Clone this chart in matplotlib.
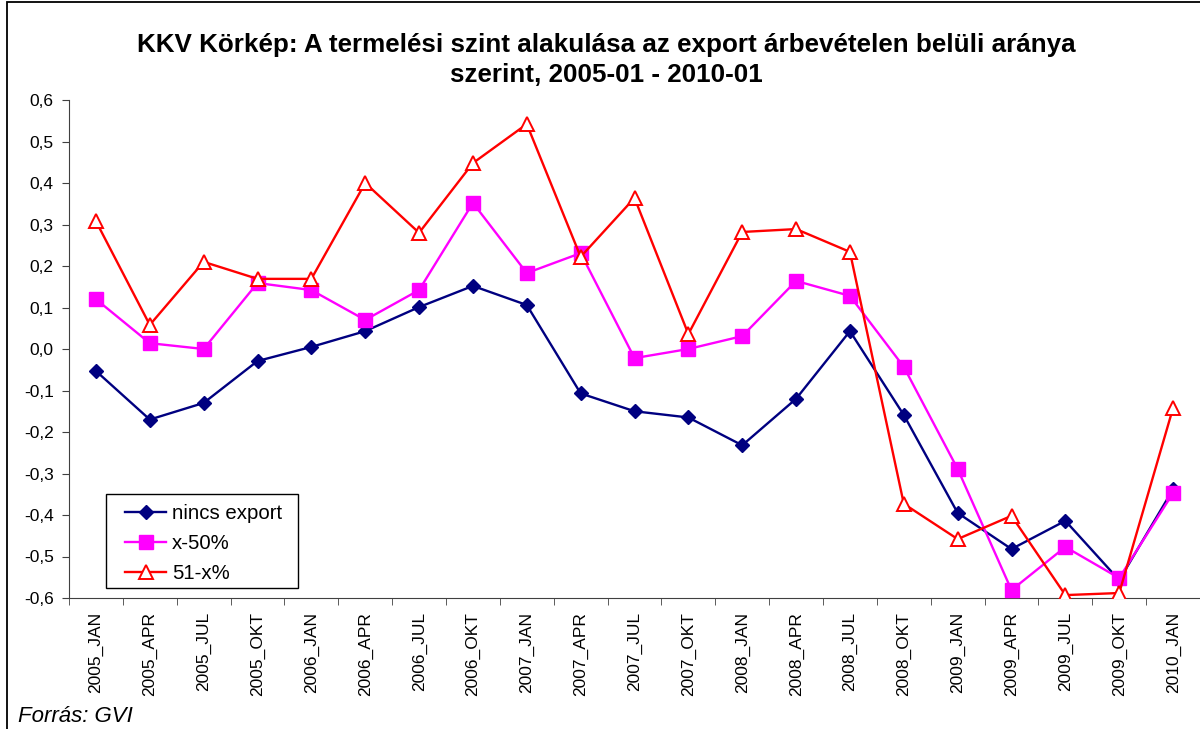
import numpy as np
import matplotlib
matplotlib.use("Agg")
import matplotlib.pyplot as plt
from matplotlib.ticker import FixedLocator, FuncFormatter
from matplotlib.patches import Rectangle

plt.rcParams['font.family'] = ['Liberation Sans', 'DejaVu Sans']

# quarters
labels = ["2005_JAN", "2005_APR", "2005_JUL", "2005_OKT",
          "2006_JAN", "2006_APR", "2006_JUL", "2006_OKT",
          "2007_JAN", "2007_APR", "2007_JUL", "2007_OKT",
          "2008_JAN", "2008_APR", "2008_JUL", "2008_OKT",
          "2009_JAN", "2009_APR", "2009_JUL", "2009_OKT",
          "2010_JAN"]

nincs_export = [-0.053, -0.17, -0.13, -0.029, 0.005, 0.043, 0.101, 0.152,
                0.106, -0.107, -0.15, -0.165, -0.232, -0.12, 0.043, -0.159,
                -0.395, -0.482, -0.414, -0.557, -0.338]
x_50 = [0.12, 0.014, 0.0, 0.159, 0.142, 0.07, 0.142, 0.352,
        0.183, 0.231, -0.022, 0.0, 0.031, 0.164, 0.128, -0.043,
        -0.289, -0.581, -0.477, -0.552, -0.347]
x_51 = [0.308, 0.058, 0.21, 0.169, 0.169, 0.40, 0.28, 0.448,
        0.542, 0.222, 0.364, 0.036, 0.282, 0.289, 0.234, -0.373,
        -0.458, -0.402, -0.593, -0.588, -0.142]

x = np.arange(len(labels))

fig = plt.figure(figsize=(12, 7.29), dpi=100)
ax = fig.add_axes([69/1200, 1-598/729, 1-69/1200, (598-100)/729])

ax.plot(x, nincs_export, color="#000080", lw=1.7, marker="D", ms=7.5,
        markerfacecolor="#000080", markeredgecolor="#000080", label="nincs export", zorder=3)
ax.plot(x, x_50, color="#FF00FF", lw=1.7, marker="s", ms=9.5,
        markerfacecolor="#FF00FF", markeredgecolor="#FF00FF", label="x-50%", zorder=4)
ax.plot(x, x_51, color="#FF0000", lw=1.7, marker="^", ms=9.5,
        markerfacecolor="white", markeredgecolor="#FF0000", markeredgewidth=1.4,
        label="51-x%", zorder=5)

ax.set_xlim(-0.5, len(labels) - 0.5)
ax.set_ylim(-0.6, 0.6)
ax.set_yticks(np.arange(-0.6, 0.61, 0.1))
ax.yaxis.set_major_formatter(FuncFormatter(lambda v, p: ("%.1f" % v).replace(".", ",").replace("-0,0", "0,0")))

ax.set_xticks(x)
ax.set_xticklabels(labels, rotation=90, fontsize=12.5)
ax.xaxis.set_minor_locator(FixedLocator(np.arange(-0.5, len(labels), 1.0)))
ax.tick_params(axis="x", which="major", length=0, pad=10)
ax.tick_params(axis="x", which="minor", length=5, color="#404040")
ax.tick_params(axis="y", labelsize=12.5, length=5, color="#404040", pad=6)

for side in ["top", "right"]:
    ax.spines[side].set_visible(False)
ax.spines["left"].set_color("#404040")
ax.spines["bottom"].set_color("#404040")

fig.text(606/1200, 1-60/729,
         "KKV Körkép: A termelési szint alakulása az export árbevételen belüli aránya\nszerint, 2005-01 - 2010-01",
         fontsize=18.7, fontweight="bold", ha="center", va="center", linespacing=1.32)

# legend without its own frame, box drawn separately (wider side margins like the original)
leg = ax.legend(loc="lower left", bbox_to_anchor=(47/1131, 6/498), fontsize=14.7,
                frameon=False, borderpad=0.45,
                handlelength=2.0, handletextpad=0.3, labelspacing=0.53, borderaxespad=0)
leg.set_zorder(7)
ax.add_patch(Rectangle((106/1200, 1-588/729), 192/1200, 94/729, transform=fig.transFigure,
                       fill=True, facecolor="white", edgecolor="black", lw=1.0, zorder=6,
                       clip_on=False))

fig.text(18/1200, 1-716/729, "Forrás: GVI", fontsize=16, style="italic", va="center")

fig.patches.append(Rectangle((7/1200, -0.01), 1.1, 1-2/729 + 0.01, transform=fig.transFigure,
                             fill=False, edgecolor="black", lw=1.3))

fig.savefig("out.png", dpi=100)
